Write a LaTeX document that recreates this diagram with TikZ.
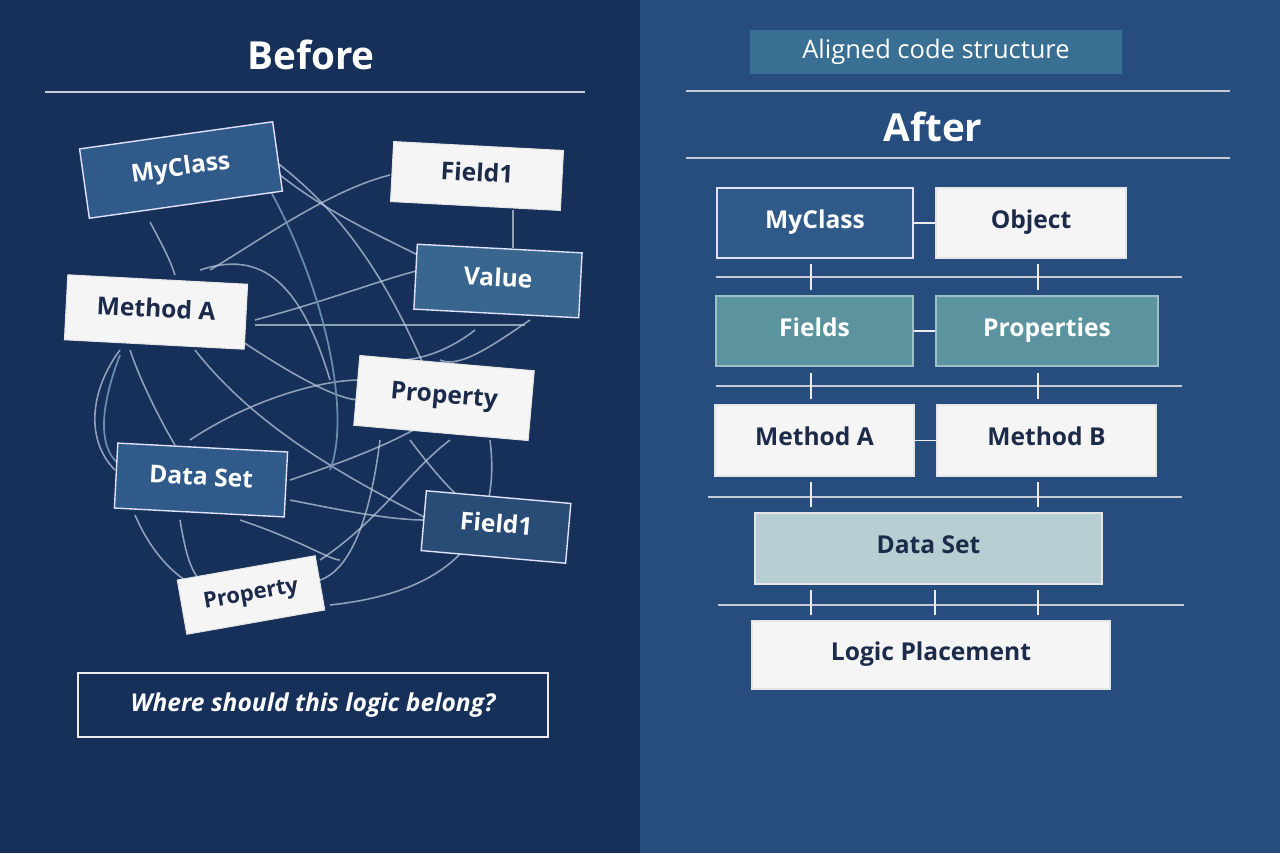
\documentclass[tikz,border=0pt]{standalone}
\usepackage{fontspec}
\setmainfont{Open Sans}
\begin{document}
\begin{tikzpicture}[x=0.02cm,y=-0.02cm,
 lightbox/.style={draw=white!80!gray,line width=0.6pt,fill=gray!8,text=dtext,font=\bfseries\fontsize{14}{16}\selectfont,inner sep=0pt,text height=1.5ex,text depth=0.35ex},
 bluebox/.style={draw=white!70!blue!40,line width=0.8pt,fill=c2,text=white,font=\bfseries\fontsize{14}{16}\selectfont,inner sep=0pt,text height=1.5ex,text depth=0.35ex},
 tangle/.style={draw=c4,line width=0.9pt,opacity=0.75},
 rule/.style={draw=white!75!c1,line width=0.7pt},
 tick/.style={draw=white!85!gray,line width=0.8pt}]
\definecolor{c1}{HTML}{16305A}
\definecolor{c2}{HTML}{2F5A8A}
\definecolor{c3}{HTML}{264D7E}
\definecolor{c4}{HTML}{B8C6DA}
\definecolor{dtext}{HTML}{1C2B4A}
\definecolor{teal}{HTML}{5B949E}
\definecolor{lteal}{HTML}{B7CFD3}
\definecolor{badge}{HTML}{3A6F94}
\fill[c1] (0,0) rectangle (640,853);
\fill[c3] (640,0) rectangle (1280,853);
\useasboundingbox (0,0) rectangle (1280,853);
% Before
\node[text=white,font=\bfseries\fontsize{22}{26}\selectfont] (tb) at (311,55) {Before};
\coordinate (l1a) at (45,92); \coordinate (l1b) at (585,92);
\draw[rule] (l1a) -- (l1b);
\begin{scope}[tangle]
\draw (260,150) .. controls (330,200) and (380,260) .. (430,380);
\draw (280,175) .. controls (350,230) and (420,250) .. (460,280);
\draw (210,270) .. controls (260,240) and (330,190) .. (390,175);
\draw (255,320) .. controls (330,300) and (380,280) .. (420,270);
\draw (255,325) -- (525,325);
\draw (240,340) .. controls (300,380) and (340,400) .. (360,400);
\draw (150,222) .. controls (165,250) and (170,260) .. (175,275);
\draw (513,210) -- (513,248);
\draw (130,350) .. controls (140,380) and (160,420) .. (175,445);
\draw (120,350) .. controls (90,390) and (85,440) .. (115,470);
\draw (195,350) .. controls (250,420) and (330,470) .. (430,520);
\draw (190,440) .. controls (250,400) and (320,380) .. (360,380);
\draw (290,480) .. controls (350,460) and (400,440) .. (430,420);
\draw (290,500) .. controls (340,510) and (390,520) .. (425,520);
\draw (380,440) .. controls (370,520) and (350,570) .. (320,580);
\draw (410,440) .. controls (440,480) and (460,500) .. (470,505);
\draw (490,440) .. controls (500,520) and (470,590) .. (330,605);
\draw (135,515) .. controls (150,550) and (170,570) .. (185,580);
\draw (180,520) .. controls (185,550) and (190,570) .. (200,580);
\draw (240,520) .. controls (300,540) and (330,560) .. (340,560);
\draw (320,560) .. controls (380,520) and (410,470) .. (450,440);
\draw (530,320) .. controls (500,340) and (460,370) .. (440,360);
\draw (475,330) .. controls (450,350) and (420,360) .. (400,360);
\draw (200,270) .. controls (260,250) and (300,280) .. (330,380);
\end{scope}
\draw[draw=c2!70!white,line width=1pt] (270,190) .. controls (330,300) and (350,420) .. (330,470);
\draw[draw=c2!70!white,line width=1pt] (120,355) .. controls (95,420) and (100,460) .. (130,470);
\node[bluebox,minimum width=195*0.02cm,minimum height=70*0.02cm,rotate=8] (mc) at (181,170) {MyClass};
\node[lightbox,minimum width=170*0.02cm,minimum height=60*0.02cm,rotate=-3] (f1) at (477,176) {Field1};
\node[bluebox,fill=c2!80!teal,minimum width=165*0.02cm,minimum height=65*0.02cm,rotate=-3] (va) at (498,281) {Value};
\node[lightbox,minimum width=180*0.02cm,minimum height=65*0.02cm,rotate=-3] (ma) at (156,312) {Method A};
\node[lightbox,minimum width=175*0.02cm,minimum height=70*0.02cm,rotate=-5] (pr) at (444,398) {Property};
\node[bluebox,minimum width=170*0.02cm,minimum height=65*0.02cm,rotate=-3] (ds) at (201,480) {Data Set};
\node[bluebox,fill=c2!85!black,minimum width=145*0.02cm,minimum height=60*0.02cm,rotate=-5] (f2) at (496,527) {Field1};
\node[lightbox,font=\bfseries\fontsize{12.5}{14}\selectfont,minimum width=140*0.02cm,minimum height=55*0.02cm,rotate=10] (p2) at (251,595) {Property};
\node[draw=white!85!gray,line width=0.8pt,minimum width=470*0.02cm,minimum height=64*0.02cm,text=white,font=\bfseries\itshape\fontsize{14}{16}\selectfont] (q) at (313,705) {Where should this logic belong?};
% After
\node[fill=badge,minimum width=372*0.02cm,minimum height=44*0.02cm,text=white,font=\fontsize{14.5}{16}\selectfont] (bd) at (936,52) {Aligned code structure};
\draw[rule] (686,91) -- (1230,91);
\node[text=white,font=\bfseries\fontsize{22}{26}\selectfont] (ta) at (933,127) {After};
\draw[rule] (686,158) -- (1230,158);
\tikzset{rb/.style={lightbox,minimum height=70*0.02cm}}
\node[bluebox,minimum width=196*0.02cm,minimum height=70*0.02cm] (rmc) at (815,223) {MyClass};
\node[rb,minimum width=190*0.02cm] (ob) at (1031,223) {Object};
\node[rb,fill=teal,text=white,draw=teal!60!white,minimum width=197*0.02cm] (fi) at (814.5,331) {Fields};
\node[rb,fill=teal,text=white,draw=teal!60!white,minimum width=222*0.02cm] (pp) at (1047,331) {Properties};
\node[rb,minimum width=199*0.02cm,minimum height=71*0.02cm] (rma) at (814.5,440.5) {Method A};
\node[rb,minimum width=219*0.02cm,minimum height=71*0.02cm] (mb) at (1046.5,440.5) {Method B};
\node[rb,fill=lteal,minimum width=347*0.02cm,minimum height=71*0.02cm] (rds) at (928.5,548.5) {Data Set};
\node[rb,minimum width=358*0.02cm,minimum height=68*0.02cm] (lp) at (931,655) {Logic Placement};
\draw[rule] (716,277) -- (1182,277);
\draw[rule] (716,386) -- (1182,386);
\draw[rule] (708,497) -- (1182,497);
\draw[rule] (718,605) -- (1184,605);
\draw[tick] (rmc) -- (ob);
\draw[tick] (fi) -- (pp);
\draw[tick] (rma) -- (mb);
\foreach \x in {811,1038}{
 \draw[tick] (\x,264) -- (\x,290);
 \draw[tick] (\x,373) -- (\x,399);
 \draw[tick] (\x,482) -- (\x,507);
}
\foreach \x in {811,935,1038} \draw[tick] (\x,590) -- (\x,615);
\end{tikzpicture}
\end{document}
